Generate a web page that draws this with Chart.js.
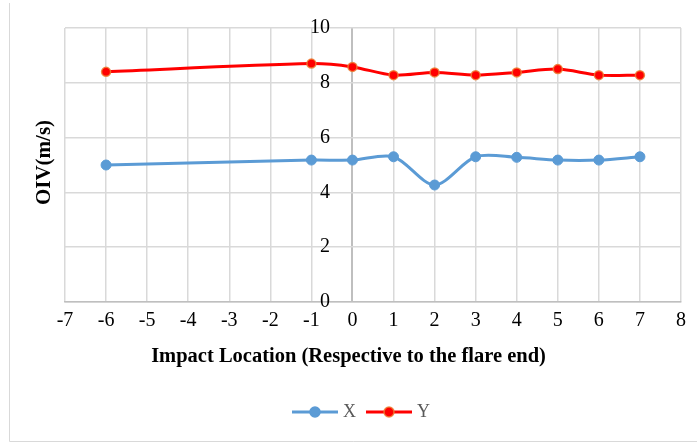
<!DOCTYPE html>
<html>
<head>
<meta charset="utf-8">
<script src="https://cdn.jsdelivr.net/npm/chart.js@4.4.1/dist/chart.umd.min.js"></script>
<style>
  html, body { margin: 0; padding: 0; background: #fff; }
  canvas { display: block; }
</style>
</head>
<body>
<canvas id="oivChart" width="697" height="444"></canvas>
<script>
// data
const locations = [-6, -1, 0, 1, 2, 3, 4, 5, 6, 7]
const oivX = [5.0, 5.18, 5.18, 5.3, 4.27, 5.3, 5.28, 5.18, 5.18, 5.3]
const oivY = [8.4, 8.7, 8.58, 8.28, 8.38, 8.28, 8.38, 8.5, 8.28, 8.28]
const xTicksMin = -7
const xTicksMax = 8
const yTicksMax = 10
const xTitle = 'Impact Location (Respective to the flare end)'
const yTitle = 'OIV(m/s)'

const fontFamily = "'Liberation Serif', 'Times New Roman', serif"

function toPoints(xs, ys) {
    return xs.map((x, i) => ({ x: x, y: ys[i] }))
}

// little line + marker picture for the legend
function legendIcon(lineColor, fillColor, borderColor) {
    const c = document.createElement('canvas')
    c.width = 46
    c.height = 14
    const g = c.getContext('2d')
    g.strokeStyle = lineColor
    g.lineWidth = 3
    g.beginPath()
    g.moveTo(0, 7)
    g.lineTo(46, 7)
    g.stroke()
    g.beginPath()
    g.arc(23, 7, 5, 0, Math.PI * 2)
    g.fillStyle = fillColor
    g.fill()
    g.lineWidth = 1.5
    g.strokeStyle = borderColor
    g.stroke()
    return c
}

const outerBorder = {
    id: 'outerBorder',
    beforeDraw(chart) {
        const { ctx } = chart
        ctx.save()
        ctx.strokeStyle = '#d9d9d9'
        ctx.lineWidth = 1
        ctx.beginPath()
        ctx.moveTo(9.5, 3)
        ctx.lineTo(9.5, 441.5)
        ctx.lineTo(697, 441.5)
        ctx.stroke()
        ctx.restore()
    }
}

// axis titles: the x title sits centred on the whole picture, not the plot
const axisTitles = {
    id: 'axisTitles',
    afterDraw(chart) {
        const { ctx } = chart
        ctx.save()
        ctx.fillStyle = '#000'
        ctx.textAlign = 'center'
        ctx.textBaseline = 'middle'
        ctx.font = 'bold 20.5px ' + fontFamily
        ctx.fillText(xTitle, 348.5, 357)
        ctx.translate(45, 162.5)
        ctx.rotate(-Math.PI / 2)
        ctx.font = 'bold 21px ' + fontFamily
        ctx.fillText(yTitle, 0, 0)
        ctx.restore()
    }
}

Chart.defaults.font.family = fontFamily
Chart.defaults.color = '#000'

const icons = [
    legendIcon('#5B9BD5', '#5B9BD5', '#5B9BD5'),
    legendIcon('#FF0000', '#FF0000', 'rgba(237,125,49,0.85)')
]

const config = {
    type: 'scatter',
    data: {
        datasets: [
            {
                label: 'X',
                data: toPoints(locations, oivX),
                showLine: true,
                borderColor: '#5B9BD5',
                backgroundColor: '#5B9BD5',
                borderWidth: 3,
                tension: 0.3,
                pointRadius: 5,
                pointBorderWidth: 1,
                pointBorderColor: '#5B9BD5',
                pointBackgroundColor: '#5B9BD5',
                yAxisID: 'y'
            },
            {
                label: 'Y',
                data: toPoints(locations, oivY),
                showLine: true,
                borderColor: '#FF0000',
                backgroundColor: '#FF0000',
                borderWidth: 3,
                tension: 0.3,
                pointRadius: 4.5,
                pointBorderWidth: 1.5,
                pointBorderColor: 'rgba(237,125,49,0.85)',
                pointBackgroundColor: '#FF0000',
                yAxisID: 'y'
            }
        ]
    },
    options: {
        responsive: false,
        animation: false,
        layout: {
            padding: { left: 45, right: 16, top: 28, bottom: 13 }
        },
        scales: {
            x: {
                type: 'linear',
                min: xTicksMin,
                max: xTicksMax,
                ticks: { stepSize: 1, padding: 7, font: { size: 20 }, color: '#000' },
                grid: {
                    // the value axis crosses at 0, drawn a bit darker
                    color: (c) => c.tick && c.tick.value === 0 ? '#bfbfbf' : '#d9d9d9',
                    lineWidth: (c) => c.tick && c.tick.value === 0 ? 2 : 1.5,
                    drawTicks: false
                },
                border: { color: '#bfbfbf', width: 1.5 },
                afterFit(scale) { scale.height = 87 }
            },
            y: {
                type: 'linear',
                position: { x: -0.55 },
                min: 0,
                max: yTicksMax,
                ticks: { stepSize: 2, font: { size: 20 }, color: '#000' },
                grid: { color: '#d9d9d9', lineWidth: 1.5, drawTicks: false },
                border: { display: false }
            },
            // empty strip on the left, room for the y title
            yt: {
                type: 'linear',
                position: 'left',
                min: 0,
                max: yTicksMax,
                ticks: { display: false },
                grid: { display: false, drawTicks: false },
                border: { display: false },
                afterFit(scale) { scale.width = 20 }
            }
        },
        plugins: {
            legend: {
                position: 'bottom',
                labels: {
                    usePointStyle: true,
                    pointStyleWidth: 38,
                    padding: 14,
                    color: '#595959',
                    font: { size: 18 },
                    generateLabels(chart) {
                        const items = Chart.defaults.plugins.legend.labels.generateLabels(chart)
                        items.forEach((item, i) => { item.pointStyle = icons[i] })
                        return items
                    }
                }
            },
            tooltip: { enabled: false }
        }
    },
    plugins: [outerBorder, axisTitles]
}

const oivChart = new Chart(document.getElementById('oivChart'), config)
</script>
</body>
</html>
